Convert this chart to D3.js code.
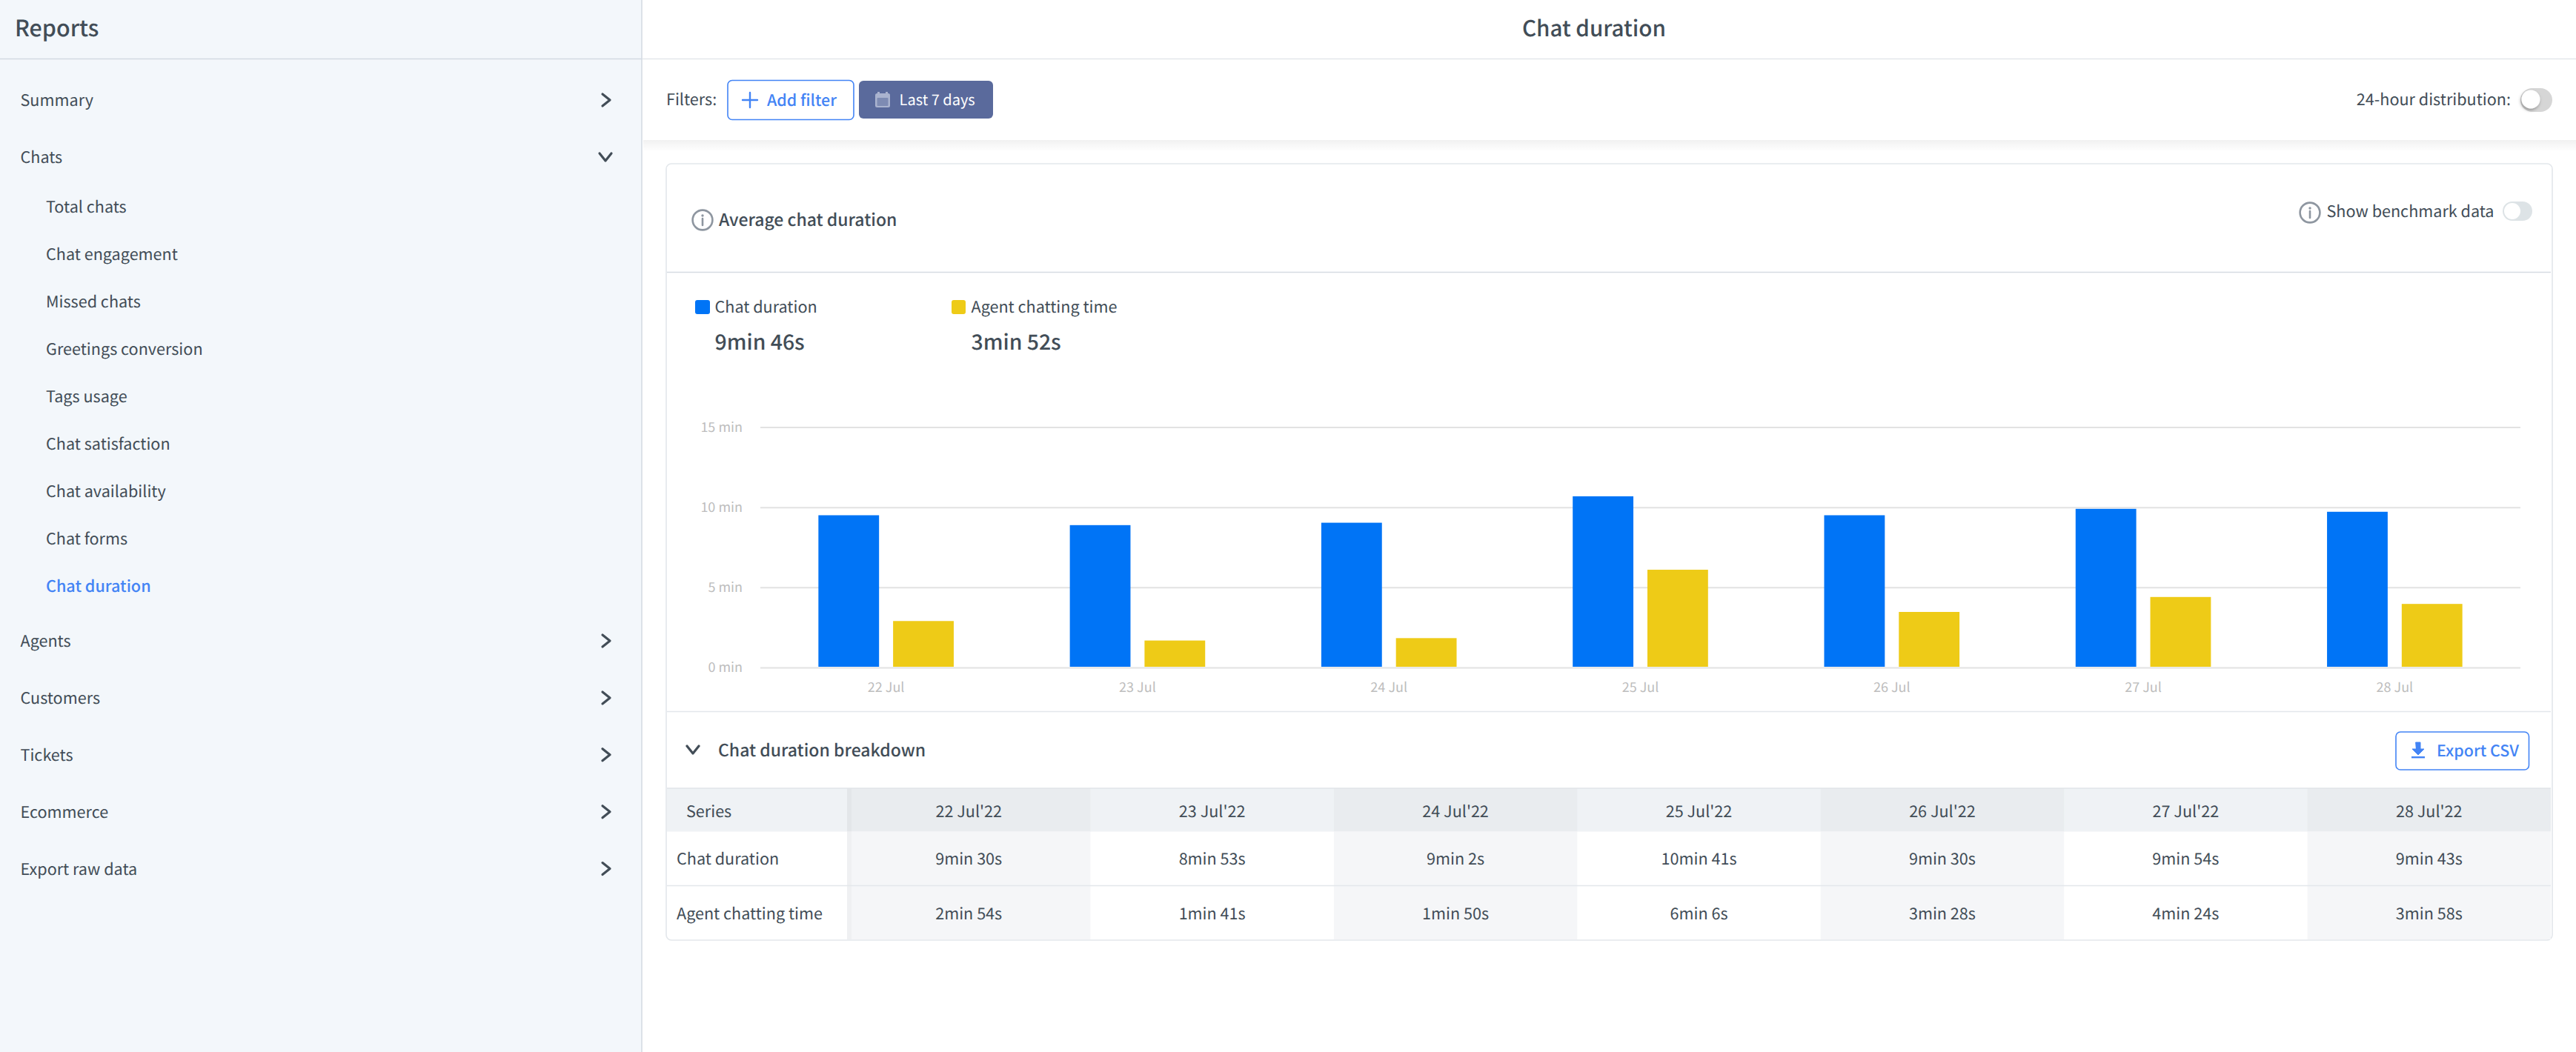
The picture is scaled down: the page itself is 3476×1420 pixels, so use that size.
<!DOCTYPE html>
<html><head><meta charset="utf-8">
<script src="https://cdn.jsdelivr.net/npm/d3@7"></script>
<style>
html,body{margin:0;padding:0;background:#fff;overflow:hidden}
svg{display:block}
text{font-family:"Noto Sans CJK SC","Noto Sans",sans-serif;text-rendering:geometricPrecision}
</style></head><body>
<script>
// ---- data ----
const days = ["22 Jul","23 Jul","24 Jul","25 Jul","26 Jul","27 Jul","28 Jul"];
const tableDays = ["22 Jul'22","23 Jul'22","24 Jul'22","25 Jul'22","26 Jul'22","27 Jul'22","28 Jul'22"];
const seriesNames = ["Chat duration","Agent chatting time"];
const seriesColors = ["#0074f6","#eecb17"];
const chatDuration = [570,533,542,641,570,594,583];      // seconds
const agentChatting = [174,101,110,366,208,264,238];     // seconds
const averages = [586,232];
const yTicks = [0,5,10,15];
const navTop1 = ["Summary","Chats"];
const navSub = ["Total chats","Chat engagement","Missed chats","Greetings conversion","Tags usage","Chat satisfaction","Chat availability","Chat forms","Chat duration"];
const navTop2 = ["Agents","Customers","Tickets","Ecommerce","Export raw data"];

// ---- page ----
const W=3476,H=1420;
const DARK="#424d57",BLUE="#4384f5",LINE="#e3e7eb";
const svg=d3.select("body").append("svg").attr("width",W).attr("height",H).attr("viewBox",`0 0 ${W} ${H}`);
const defs=svg.append("defs");
const sg=defs.append("linearGradient").attr("id","sh").attr("x1",0).attr("x2",0).attr("y1",0).attr("y2",1);
sg.append("stop").attr("offset",0).attr("stop-color","#000").attr("stop-opacity",.055);
sg.append("stop").attr("offset",1).attr("stop-color","#000").attr("stop-opacity",0);
const kf=defs.append("filter").attr("id","knob").attr("x","-40%").attr("y","-40%").attr("width","180%").attr("height","180%");
kf.append("feDropShadow").attr("dx",-1).attr("dy",2).attr("stdDeviation",2).attr("flood-color","#000").attr("flood-opacity",.35);

const FS=21.6;
function T(x,y,s,o={}){
  const size=o.size||FS;
  return svg.append("text").attr("x",x).attr("y",y+size*0.33+0.8).text(s)
    .attr("font-size",size).attr("fill",o.fill||DARK)
    .attr("font-weight",o.weight||400).attr("text-anchor",o.anchor||"start");
}
function R(x,y,w,h,fill,o={}){
  const r=svg.append("rect").attr("x",x).attr("y",y).attr("width",w).attr("height",h).attr("fill",fill);
  if(o.rx)r.attr("rx",o.rx);
  if(o.stroke)r.attr("stroke",o.stroke).attr("stroke-width",o.sw||1.5);
  return r;
}
function P(d,stroke,sw,fill){return svg.append("path").attr("d",d).attr("fill",fill||"none").attr("stroke",stroke||"none").attr("stroke-width",sw||0).attr("stroke-linecap","round").attr("stroke-linejoin","round");}
const chevR=(x,y)=>P(`M${x-5} ${y-8}L${x+5} ${y}L${x-5} ${y+8}`,"#424d57",3.2);
const chevD=(x,y)=>P(`M${x-8} ${y-5}L${x} ${y+5}L${x+8} ${y-5}`,"#424d57",3.2);
function info(x,y){
  svg.append("circle").attr("cx",x).attr("cy",y).attr("r",13.4).attr("fill","none").attr("stroke","#8e96a0").attr("stroke-width",2.6);
  svg.append("circle").attr("cx",x).attr("cy",y-6).attr("r",1.7).attr("fill","#8e96a0");
  P(`M${x} ${y-2}V${y+7}`,"#8e96a0",2.6);
}

// sidebar
R(0,0,866,H,"#f3f7fb");
svg.append("line").attr("x1",866).attr("x2",866).attr("y1",0).attr("y2",H).attr("stroke","#d3dae2").attr("stroke-width",1.5);
svg.append("line").attr("x1",0).attr("x2",866).attr("y1",79.5).attr("y2",79.5).attr("stroke","#d3dae2").attr("stroke-width",1.5);
T(20,38.5,"Reports",{size:30.4,weight:500});
navTop1.forEach((s,i)=>{const y=135+77*i;T(27.5,y,s);i==0?chevR(818,y):chevD(817,y);});
navSub.forEach((s,i)=>{const y=279+64*i;const last=i==navSub.length-1;T(62,y,s,last?{fill:BLUE,weight:500}:{});});
navTop2.forEach((s,i)=>{const y=865+76.9*i;T(27.5,y,s);chevR(818,y);});

// header + toolbar
svg.append("line").attr("x1",867).attr("x2",W).attr("y1",79.5).attr("y2",79.5).attr("stroke","#e4e7ea").attr("stroke-width",1.5);
T(2151,38.5,"Chat duration",{size:29.6,weight:500,anchor:"middle"});
R(868,189,W-868,16,"url(#sh)");
T(899,134.5,"Filters:");
R(982,108.5,170,53,"#fff",{rx:6,stroke:BLUE,sw:1.6});
P("M1012 125V145M1002 135H1022",BLUE,2.4);
T(1035,135,"Add filter",{fill:BLUE,weight:500,size:21.4});
R(1159,109,181,51,"#5a6a9c",{rx:6});
R(1181,126,20,19,"#aab3cf",{rx:2.5});
R(1184,124,3,4,"#aab3cf");R(1195,124,3,4,"#aab3cf");
R(1183.5,132,15,11,"#5a6a9c",{rx:1}).attr("opacity",.55);
T(1213.6,135,"Last 7 days",{fill:"#fff",size:20});
T(3388,134.5,"24-hour distribution:",{anchor:"end"});
R(3401,119,43,32,"#d6d6d6",{rx:16});
svg.append("circle").attr("cx",3415).attr("cy",134).attr("r",12.5).attr("fill","#fff").attr("filter","url(#knob)");

// card
R(899,221,2545,1048,"#fff",{rx:7,stroke:LINE,sw:1.6});
info(948,297);
T(970,296.5,"Average chat duration",{weight:500,size:23});
info(3117,287);
T(3139.5,285.5,"Show benchmark data");
R(3377,272,40,26,"#dde3e6",{rx:13});
svg.append("circle").attr("cx",3390).attr("cy",285).attr("r",11).attr("fill","#fff");
svg.append("line").attr("x1",900).attr("x2",3442).attr("y1",367.5).attr("y2",367.5).attr("stroke","#d5dbe2").attr("stroke-width",1.5);

// legend
const fmt=s=>`${Math.floor(s/60)}min ${s%60}s`;
const legendX=[938,1284];
seriesNames.forEach((n,i)=>{
  R(legendX[i],405,i?19:20,19,seriesColors[i],{rx:3});
  T(legendX[i]+26.5,414.5,n);
  T(legendX[i]+26.5,461.5,fmt(averages[i]),{size:28.4,weight:500});
});

// chart
const plot={l:1026,r:3401,t:576.5,b:901};
const x0=d3.scaleBand().domain(days).range([plot.l,plot.r]);
const gw=182.6;
const x1=d3.scaleBand().domain(seriesNames).range([(x0.bandwidth()-gw)/2,(x0.bandwidth()+gw)/2]).paddingInner(.188);
const y=d3.scaleLinear().domain([0,15]).range([plot.b,plot.t]);

const yAxis=svg.append("g").attr("transform",`translate(${plot.l},0)`)
  .call(d3.axisLeft(y).tickValues(yTicks).tickSize(-(plot.r-plot.l)).tickPadding(24).tickFormat(d=>`${d} min`));
yAxis.select(".domain").remove();
yAxis.selectAll("line").attr("stroke","#e2e2e2").attr("stroke-width",2);
yAxis.selectAll("text").attr("font-size",18).attr("fill","#bdbdbd").attr("font-family",'"Noto Sans CJK SC"');

const values=[chatDuration,agentChatting];
svg.append("g").selectAll("g").data(seriesNames).join("g").attr("fill",(d,i)=>seriesColors[i])
 .each(function(name,si){
   d3.select(this).selectAll("rect").data(values[si]).join("rect")
    .attr("x",(v,i)=>x0(days[i])+x1(name))
    .attr("width",x1.bandwidth())
    .attr("y",v=>y(v/60))
    .attr("height",v=>plot.b-1-y(v/60));
 });

const xAxis=svg.append("g").attr("transform",`translate(0,${plot.b})`)
  .call(d3.axisBottom(x0).tickSize(0).tickPadding(20));
xAxis.select(".domain").remove();
xAxis.selectAll("text").attr("font-size",18).attr("fill","#bdbdbd").attr("font-family",'"Noto Sans CJK SC"');

// breakdown header
svg.append("line").attr("x1",900).attr("x2",3442).attr("y1",960.5).attr("y2",960.5).attr("stroke",LINE).attr("stroke-width",1.5);
chevD(935,1012);
T(969,1012.5,"Chat duration breakdown",{weight:500,size:23});
R(3233,988,179.5,51,"#fff",{rx:6,stroke:BLUE,sw:1.6});
P("M3260 1002H3266V1011H3271L3263 1019L3255 1011H3260Z",BLUE,1,BLUE);
R(3254,1021,18,2.4,BLUE);
T(3288,1013,"Export CSV",{fill:BLUE,weight:500,size:21.4});

// table
const colX=d3.scaleBand().domain(tableDays).range([1143,3442]);
const rowsY=[1064,1122.5,1195,1268];
R(900,rowsY[0],2542,rowsY[1]-rowsY[0],"#eff2f5");
tableDays.forEach((d,i)=>{
  if(i%2==0){
    R(colX(d),rowsY[0],colX.bandwidth(),rowsY[1]-rowsY[0],"#e9ecef");
    R(colX(d),rowsY[1],colX.bandwidth(),rowsY[3]-rowsY[1],"#f5f6f8");
  }
});
R(1143,rowsY[0],6,rowsY[3]-rowsY[0],"#000").attr("opacity",.022);
svg.append("line").attr("x1",900).attr("x2",3442).attr("y1",1064).attr("y2",1064).attr("stroke","#e1e5e9").attr("stroke-width",1.5);
svg.append("line").attr("x1",900).attr("x2",3442).attr("y1",1195.5).attr("y2",1195.5).attr("stroke",LINE).attr("stroke-width",1.5);
T(926,1095,"Series");
T(913,1159,seriesNames[0]);
T(913,1233,seriesNames[1]);
tableDays.forEach((d,i)=>{
  const cx=colX(d)+colX.bandwidth()/2;
  T(cx,1095,d,{anchor:"middle"});
  T(cx,1159,fmt(chatDuration[i]),{anchor:"middle"});
  T(cx,1233,fmt(agentChatting[i]),{anchor:"middle"});
});
</script>
</body></html>
